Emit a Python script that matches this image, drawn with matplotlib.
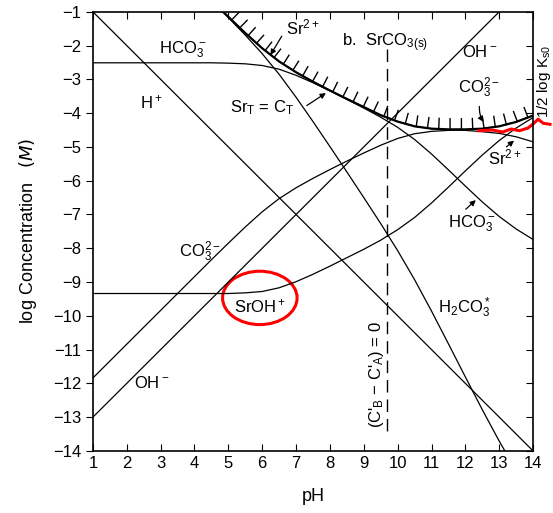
import numpy as np
import matplotlib.pyplot as plt
import matplotlib.patheffects as pe
from matplotlib.patches import Ellipse

plt.rcParams['font.family'] = ['Liberation Sans', 'DejaVu Sans']
plt.rcParams['mathtext.default'] = 'regular'

nan = np.nan

# pH grid and log concentrations (SrCO3(s), Sr_T = C_T)
ph = [1.0, 1.5, 2.0, 2.5, 3.0, 3.5, 4.0, 4.5, 5.0, 5.5, 6.0, 6.5, 7.0, 7.5,
      8.0, 8.5, 9.0, 9.5, 10.0, 10.5, 11.0, 11.5, 12.0, 12.5, 13.0, 13.5, 14.0]

c_total = [nan, nan, nan, nan, nan, nan, nan, -0.66, -1.15, -1.63, -2.08, -2.47,
           -2.79, -3.07, -3.33, -3.58, -3.82, -4.06, -4.25, -4.39, -4.46, -4.48,
           -4.48, -4.46, -4.39, -4.26, -4.07]
sr2 = [nan, nan, nan, nan, nan, nan, nan, -0.66, -1.15, -1.63, -2.08, -2.47,
       -2.79, -3.07, -3.33, -3.58, -3.82, -4.06, -4.25, -4.39, -4.46, -4.49,
       -4.51, -4.55, -4.60, -4.70, -4.85]
h2co3 = [nan, nan, nan, nan, nan, nan, nan, -0.66, -1.17, -1.69, -2.24, -2.85,
         -3.53, -4.25, -4.99, -5.74, -6.50, -7.27, -8.07, -8.93, -9.86, -10.83,
         -11.81, -12.78, -13.71, -14.58, nan]
hco3 = [-2.51, -2.51, -2.51, -2.51, -2.51, -2.51, -2.51, -2.51, -2.52, -2.54,
        -2.59, -2.70, -2.88, -3.10, -3.34, -3.59, -3.85, -4.12, -4.42, -4.78,
        -5.21, -5.68, -6.16, -6.63, -7.06, -7.43, -7.74]
co3 = [-11.84, -11.34, -10.84, -10.34, -9.84, -9.34, -8.84, -8.34, -7.85, -7.37,
       -6.92, -6.53, -6.21, -5.93, -5.67, -5.42, -5.18, -4.95, -4.75, -4.61,
       -4.54, -4.51, -4.49, -4.46, -4.39, -4.26, -4.07]
sroh = [-9.34, -9.34, -9.34, -9.34, -9.34, -9.34, -9.34, -9.34, -9.34, -9.32,
        -9.28, -9.17, -8.99, -8.77, -8.53, -8.28, -8.03, -7.76, -7.45, -7.09,
        -6.66, -6.19, -5.71, -5.24, -4.81, -4.44, -4.13]

h_ph = [1, 14]
h_log = [-1, -14]
oh_ph = [1, 13]
oh_log = [-13, -1]

ph_zero = 9.7            # (C'_B - C'_A) = 0
zero_span = [-2.1, -13.5]

# red hand-drawn marks on the scan
red_ph = [12.4, 12.8, 13.1, 13.35, 13.6, 13.85, 14.0, 14.15, 14.3, 14.5]
red_log = [-4.52, -4.50, -4.56, -4.47, -4.52, -4.44, -4.32, -4.18, -4.30, -4.33]

fig = plt.figure(figsize=(5.53, 5.13), dpi=100)
ax = fig.add_axes([0.168, 0.121, 0.796, 0.856])

lw = 0.9
ax.plot(h_ph, h_log, color='black', lw=lw)
ax.plot(oh_ph, oh_log, color='black', lw=lw)
ax.plot(ph, hco3, color='black', lw=lw)
ax.plot(ph, co3, color='black', lw=lw)
ax.plot(ph, sroh, color='black', lw=lw)
ax.plot(ph, h2co3, color='black', lw=lw)
ax.plot(ph, sr2, color='black', lw=lw)

# solubility boundary, hatched on the solid side
ph_arr = np.array(ph)
ct_arr = np.array(c_total)
ok = ~np.isnan(ct_arr)
ax.plot(ph_arr[ok], ct_arr[ok], color='black', lw=1.6,
        path_effects=[pe.withTickedStroke(spacing=8, angle=90, length=0.95, linewidth=1.0)])

ax.plot([ph_zero, ph_zero], zero_span, color='black', lw=1.0, dashes=(9, 5))

ax.set_xlim(1, 14)
ax.set_ylim(-14, -1)
ax.set_xticks(range(1, 15))
ax.set_yticks(range(-14, 0))
ax.tick_params(axis='x', direction='in', top=True, length=5, labelsize=12, pad=4)
ax.tick_params(axis='y', direction='out', length=5, labelsize=12)
ax.tick_params(axis='y', which='both', right=True)
for t in ax.yaxis.get_ticklines()[1::2]:
    t.set_marker(0)
for sp in ax.spines.values():
    sp.set_linewidth(1.2)

ax.set_xlabel('pH', fontsize=13, labelpad=12)
ax.set_ylabel(r'log Concentration   $\mathit{(M)}$', fontsize=13, labelpad=10)

fs = 12
txt = dict(fontsize=fs, ha='center', va='center')
arrow = dict(arrowstyle='-|>', color='black', lw=0.9, mutation_scale=8)
ax.text(3.66, -2.13, 'HCO$_3^-$', **txt)
ax.text(2.74, -3.67, 'H$^+$', **txt)
ax.text(7.2, -1.45, 'Sr$^{2+}$', **txt)
ax.annotate('', xy=(6.2, -2.35), xytext=(6.62, -1.65), arrowprops=arrow)
ax.text(9.63, -1.92, 'b.  SrCO$_{3(s)}$', **txt)
ax.text(12.43, -2.18, 'OH$^-$', **txt)
ax.text(12.4, -3.25, 'CO$_3^{2-}$', **txt)
ax.annotate('', xy=(12.58, -4.33), xytext=(12.42, -3.72),
            arrowprops=dict(arrow, connectionstyle='arc3,rad=0.2'))
ax.text(14.07, -4.15, r'1/2 log K$_{s0}$', fontsize=11, rotation=90,
        ha='left', va='bottom', clip_on=False)
ax.text(5.99, -3.84, 'Sr$_T$ = C$_T$', **txt)
ax.annotate('', xy=(7.95, -3.36), xytext=(7.25, -3.82), arrowprops=arrow)
ax.text(4.16, -8.1, 'CO$_3^{2-}$', **txt)
ax.text(5.93, -9.71, 'SrOH$^+$', **txt)
ax.text(2.74, -11.99, 'OH$^-$', **txt)
ax.text(13.17, -5.3, 'Sr$^{2+}$', **txt)
ax.annotate('', xy=(13.5, -4.76), xytext=(13.15, -5.05), arrowprops=arrow)
ax.text(12.2, -7.28, 'HCO$_3^-$', **txt)
ax.annotate('', xy=(12.37, -6.52), xytext=(11.95, -6.9), arrowprops=arrow)
ax.text(11.96, -9.77, 'H$_2$CO$_3^*$', **txt)
ax.text(9.39, -11.75, "(C$'_B$ $-$ C$'_A$) = 0", fontsize=fs, rotation=90,
        ha='center', va='center')

# red annotations
ax.add_patch(Ellipse((5.93, -9.47), 2.2, 1.58, fill=False, edgecolor='red', lw=2.2))
ax.plot(red_ph, red_log, color='red', lw=2.2, clip_on=False)

fig.savefig('out.png', dpi=100)
